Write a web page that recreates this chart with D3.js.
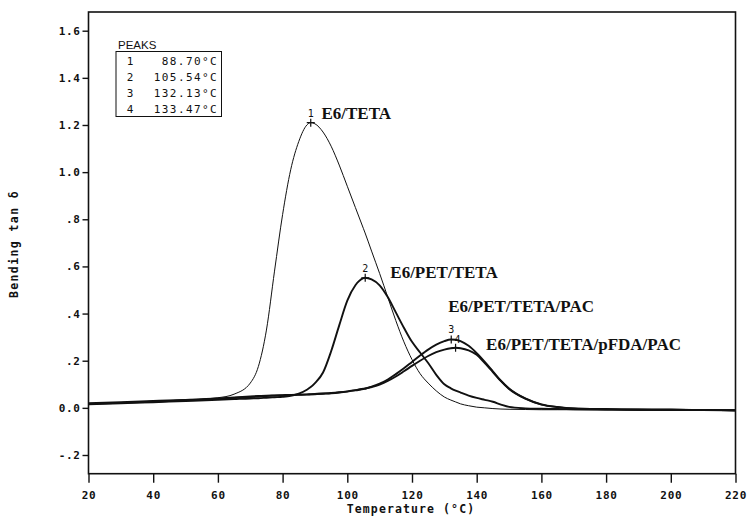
<!DOCTYPE html>
<html>
<head>
<meta charset="utf-8">
<title>Bending tan delta</title>
<script src="https://d3js.org/d3.v7.min.js"></script>
<style>
  body { margin: 0; background: #fff; }
  svg { display: block; }
</style>
</head>
<body>
<div id="chart"></div>
<script>
// temperature grid (°C) shared by all four traces
var temps = [20, 30, 40, 50, 60, 65, 70, 72.5, 75, 77.5, 80, 82.5, 85, 87.5, 88.7, 90, 92.5, 95, 97.5, 100,
    102.5, 105, 105.5, 107.5, 110, 112.5, 115, 117.5, 120, 122.5, 125, 127.5, 130, 132, 133.5, 135, 137.5, 140,
    142.5, 145, 147.5, 150, 155, 160, 165, 170, 180, 190, 200, 210, 220];

// E6/TETA
var tetaVals = [0.018, 0.022, 0.028, 0.034, 0.043, 0.058, 0.105, 0.175, 0.33, 0.58, 0.82, 1.01, 1.13, 1.2, 1.21, 1.205,
    1.17, 1.11, 1.03, 0.94, 0.85, 0.76, 0.742, 0.665, 0.57, 0.47, 0.37, 0.28, 0.205, 0.145, 0.105, 0.072, 0.046,
    0.033, 0.025, 0.017, 0.009, 0.003, 0.0, -0.003, -0.005, -0.006, -0.007, -0.008, -0.008, -0.008, -0.009,
    -0.009, -0.01, -0.01, -0.011];

// E6/PET/TETA
var petVals = [0.015, 0.019, 0.024, 0.029, 0.034, 0.037, 0.04, 0.041, 0.043, 0.045, 0.047, 0.051, 0.06, 0.077, 0.088,
    0.105, 0.15, 0.24, 0.35, 0.455, 0.52, 0.55, 0.552, 0.545, 0.52, 0.47, 0.405, 0.34, 0.28, 0.235, 0.19, 0.14,
    0.1, 0.083, 0.073, 0.065, 0.052, 0.042, 0.034, 0.026, 0.014, 0.004, -0.002, -0.004, -0.005, -0.006, -0.007,
    -0.008, -0.008, -0.009, -0.01];

// E6/PET/TETA/PAC
var pacVals = [0.02, 0.024, 0.029, 0.034, 0.04, 0.044, 0.048, 0.05, 0.052, 0.053, 0.054, 0.055, 0.056, 0.057, 0.058,
    0.059, 0.061, 0.063, 0.066, 0.07, 0.075, 0.081, 0.082, 0.09, 0.103, 0.12, 0.143, 0.168, 0.195, 0.222, 0.247,
    0.268, 0.283, 0.29, 0.289, 0.283, 0.263, 0.232, 0.195, 0.155, 0.115, 0.082, 0.04, 0.015, 0.004, -0.002,
    -0.005, -0.007, -0.008, -0.009, -0.01];

// E6/PET/TETA/pFDA/PAC
var pfdaVals = [0.017, 0.021, 0.026, 0.032, 0.038, 0.042, 0.046, 0.048, 0.05, 0.052, 0.053, 0.054, 0.055, 0.056, 0.057,
    0.058, 0.06, 0.062, 0.065, 0.069, 0.074, 0.08, 0.081, 0.088, 0.099, 0.114, 0.133, 0.155, 0.178, 0.2, 0.22,
    0.236, 0.247, 0.253, 0.255, 0.253, 0.244, 0.225, 0.19, 0.152, 0.113, 0.08, 0.039, 0.014, 0.003, -0.003,
    -0.006, -0.008, -0.008, -0.009, -0.011];

var seriesNames = ["E6/TETA", "E6/PET/TETA", "E6/PET/TETA/PAC", "E6/PET/TETA/pFDA/PAC"];
var seriesVals = [tetaVals, petVals, pacVals, pfdaVals];
var seriesWidths = [1, 1.9, 1.9, 1.9];

// peak table
var peakIds = ["1", "2", "3", "4"];
var peakTemps = [88.70, 105.54, 132.13, 133.47];
var peakVals = [1.21, 0.552, 0.29, 0.255];
var peakText = ["88.70°C", "105.54°C", "132.13°C", "133.47°C"];

// where each curve name is written (data coords)
var labelTemps = [92, 113.3, 131.2, 142.9];
var labelVals = [1.227, 0.55, 0.405, 0.246];

var xTicks = [20, 40, 60, 80, 100, 120, 140, 160, 180, 200, 220];
var yTicks = [-0.2, 0, 0.2, 0.4, 0.6, 0.8, 1.0, 1.2, 1.4, 1.6];
var yTickLabels = ["-.2", "0.0", ".2", ".4", ".6", ".8", "1.0", "1.2", "1.4", "1.6"];

var W = 749, H = 516;
var plotL = 88.5, plotR = 735.5, plotT = 12, plotB = 473.7;
var mono = "'DejaVu Sans Mono', monospace";

var x = d3.scaleLinear().domain([20, 220]).range([plotL, plotR]);
var y = d3.scaleLinear().domain([-0.2, 1.6]).range([455, 30.7]);

var svg = d3.select("#chart").append("svg")
    .attr("width", W)
    .attr("height", H);

// frame
svg.append("rect")
    .attr("x", plotL).attr("y", plotT)
    .attr("width", plotR - plotL).attr("height", plotB - plotT)
    .attr("fill", "none").attr("stroke", "#111").attr("stroke-width", 1.6);

// y axis ticks
var yAxis = svg.append("g")
    .attr("transform", "translate(" + plotL + ",0)")
    .call(d3.axisLeft(y).tickValues(yTicks).tickSize(6).tickPadding(2)
        .tickFormat(function(d, i) { return yTickLabels[i]; }));
yAxis.select(".domain").remove();
yAxis.selectAll("line").attr("stroke", "#111").attr("stroke-width", 1.4);
yAxis.selectAll("text")
    .attr("fill", "#111")
    .style("font-family", mono)
    .style("font-size", "11px")
    .style("font-weight", "bold")
    .style("letter-spacing", "0.6px");

// x axis ticks
var xAxis = svg.append("g")
    .attr("transform", "translate(0," + plotB + ")")
    .call(d3.axisBottom(x).tickValues(xTicks).tickSize(9).tickPadding(9));
xAxis.select(".domain").remove();
xAxis.selectAll("line").attr("stroke", "#111").attr("stroke-width", 1.4);
xAxis.selectAll("text")
    .attr("fill", "#111")
    .style("font-family", mono)
    .style("font-size", "11px")
    .style("font-weight", "bold")
    .style("letter-spacing", "0.7px");

// axis titles
svg.append("text")
    .attr("x", 411).attr("y", 513)
    .attr("text-anchor", "middle")
    .style("font-family", mono).style("font-size", "11.5px").style("font-weight", "bold")
    .style("letter-spacing", "1.1px")
    .attr("fill", "#111")
    .text("Temperature (°C)");

svg.append("text")
    .attr("transform", "translate(18,244) rotate(-90)")
    .attr("text-anchor", "middle")
    .style("font-family", mono).style("font-size", "11.5px").style("font-weight", "bold")
    .style("letter-spacing", "1.4px")
    .attr("fill", "#111")
    .text("Bending tan δ");

// curves
var line = d3.line()
    .x(function(d) { return x(d[0]); })
    .y(function(d) { return y(d[1]); })
    .curve(d3.curveMonotoneX);

seriesVals.forEach(function(vals, i) {
    svg.append("path")
        .datum(temps.map(function(t, j) { return [t, vals[j]]; }))
        .attr("d", line)
        .attr("fill", "none")
        .attr("stroke", "#111")
        .attr("stroke-width", seriesWidths[i])
        .attr("stroke-linejoin", "round");
});

// peak markers
var peaks = svg.selectAll(".peak").data(peakIds).enter().append("g")
    .attr("class", "peak")
    .attr("transform", function(d, i) {
        return "translate(" + x(peakTemps[i]) + "," + y(peakVals[i]) + ")";
    });
peaks.append("path")
    .attr("d", "M-4,0H4M0,-4V4")
    .attr("stroke", "#111").attr("stroke-width", 1.2);
peaks.append("text")
    .attr("x", function(d, i) { return i == 3 ? 2 : 0; })
    .attr("y", function(d, i) { return i == 3 ? -5 : -6; })
    .attr("text-anchor", "middle")
    .style("font-family", mono).style("font-size", "10px")
    .attr("fill", "#111")
    .text(function(d) { return d; });

// curve names
svg.selectAll(".lbl").data(seriesNames).enter().append("text")
    .attr("class", "lbl")
    .attr("x", function(d, i) { return x(labelTemps[i]); })
    .attr("y", function(d, i) { return y(labelVals[i]); })
    .style("font-family", "'Liberation Serif', serif")
    .style("font-size", "17px")
    .style("font-weight", "bold")
    .attr("fill", "#111")
    .text(function(d) { return d; });

// peak table
svg.append("text")
    .attr("x", 118).attr("y", 49)
    .style("font-family", "'Liberation Sans', sans-serif").style("font-size", "11.5px")
    .attr("fill", "#111")
    .text("PEAKS");
svg.append("rect")
    .attr("x", 116).attr("y", 51.5)
    .attr("width", 105.5).attr("height", 65)
    .attr("fill", "none").attr("stroke", "#111").attr("stroke-width", 1);
var rows = svg.selectAll(".row").data(peakIds).enter().append("g")
    .attr("class", "row")
    .attr("transform", function(d, i) { return "translate(0," + (65 + i * 16) + ")"; });
rows.append("text")
    .attr("x", 130).attr("text-anchor", "middle")
    .style("font-family", mono).style("font-size", "11px")
    .attr("fill", "#111")
    .text(function(d) { return d; });
rows.append("text")
    .attr("x", 218).attr("text-anchor", "end")
    .style("font-family", mono).style("font-size", "11px")
    .style("letter-spacing", "1.4px")
    .attr("fill", "#111")
    .text(function(d, i) { return peakText[i]; });
</script>
</body>
</html>
